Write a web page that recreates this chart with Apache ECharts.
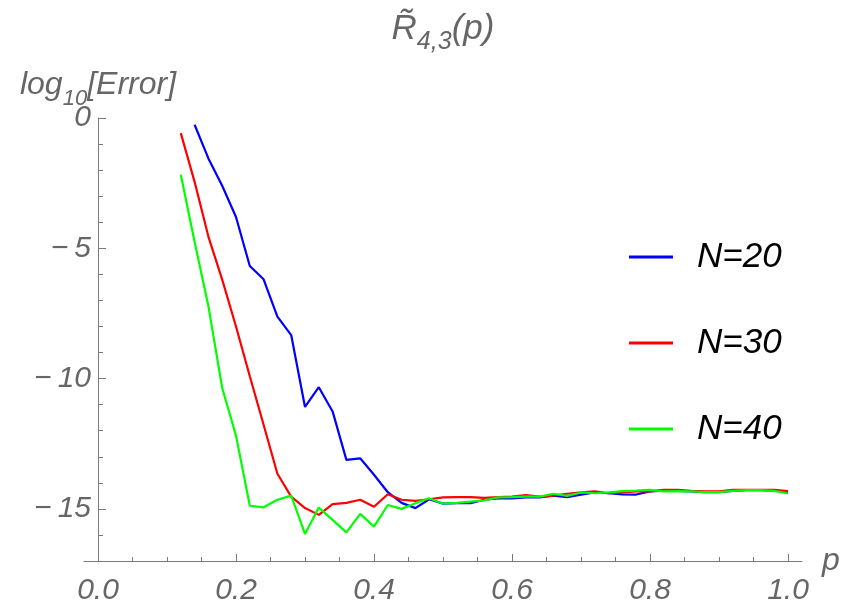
<!DOCTYPE html>
<html>
<head>
<meta charset="utf-8">
<script src="https://cdn.jsdelivr.net/npm/echarts@6/dist/echarts.min.js"></script>
<style>
  html, body { margin: 0; padding: 0; background: #ffffff; }
  #chart { width: 844px; height: 615px; }
</style>
</head>
<body>
<div id="chart"></div>
<script>
// Sample points p = 0.12 ... 1.00
const pValues = [0.12, 0.14, 0.16, 0.18, 0.20, 0.22, 0.24, 0.26, 0.28, 0.30,
                 0.32, 0.34, 0.36, 0.38, 0.40, 0.42, 0.44, 0.46, 0.48, 0.50,
                 0.52, 0.54, 0.56, 0.58, 0.60, 0.62, 0.64, 0.66, 0.68, 0.70,
                 0.72, 0.74, 0.76, 0.78, 0.80, 0.82, 0.84, 0.86, 0.88, 0.90,
                 0.92, 0.94, 0.96, 0.98, 1.00];

// log10 of the error for each truncation order N
const errN20 = ['-', -0.26, -1.55, -2.6, -3.8, -5.68, -6.19, -7.62, -8.33, -11.09,
                -10.33, -11.26, -13.12, -13.06, -13.69, -14.36, -14.77, -14.97, -14.63, -14.80,
                -14.78, -14.78, -14.65, -14.60, -14.60, -14.56, -14.56, -14.49, -14.55, -14.45,
                -14.37, -14.40, -14.44, -14.45, -14.33, -14.30, -14.31, -14.33, -14.36, -14.36,
                -14.31, -14.28, -14.28, -14.30, -14.36];
const errN30 = [-0.58, -2.45, -4.55, -6.2, -8.0, -9.91, -11.77, -13.65, -14.53, -14.97,
                -15.23, -14.82, -14.77, -14.65, -14.92, -14.44, -14.65, -14.69, -14.63, -14.56,
                -14.55, -14.55, -14.58, -14.55, -14.53, -14.47, -14.53, -14.49, -14.42, -14.37,
                -14.33, -14.40, -14.37, -14.33, -14.33, -14.27, -14.27, -14.31, -14.33, -14.33,
                -14.27, -14.27, -14.27, -14.27, -14.32];
const errN40 = [-2.18, -4.75, -7.22, -10.36, -12.19, -14.88, -14.94, -14.65, -14.49, -15.96,
                -14.95, -15.42, -15.90, -15.19, -15.68, -14.85, -15.00, -14.78, -14.59, -14.80,
                -14.77, -14.72, -14.67, -14.56, -14.55, -14.53, -14.53, -14.42, -14.50, -14.37,
                -14.40, -14.37, -14.32, -14.30, -14.27, -14.33, -14.32, -14.33, -14.36, -14.36,
                -14.31, -14.28, -14.28, -14.31, -14.41];

const seriesNames = ['N=20', 'N=30', 'N=40'];
const seriesColors = ['#0000ff', '#ff0000', '#00ff00'];

// Tick positions
const xMajorTicks = [0, 0.2, 0.4, 0.6, 0.8, 1.0];
const xMinorTicks = [0.05, 0.1, 0.15, 0.25, 0.3, 0.35, 0.45, 0.5, 0.55,
                     0.65, 0.7, 0.75, 0.85, 0.9, 0.95];
const yMajorTicks = [0, -5, -10, -15];
const yMinorTicks = [-1, -2, -3, -4, -6, -7, -8, -9, -11, -12, -13, -14, -16];

const FONT = '"Liberation Sans", Arial, sans-serif';
const AXIS_COLOR = '#7a7a7a';
const TEXT_COLOR = '#666666';

const chart = echarts.init(document.getElementById('chart'), null, { renderer: 'canvas' });

const toPairs = (vals) => pValues.map((p, i) => [p, vals[i]]);

const lineSeries = [errN20, errN30, errN40].map((vals, i) => ({
  name: seriesNames[i],
  type: 'line',
  xAxisIndex: 0,
  yAxisIndex: 0,
  data: toPairs(vals),
  showSymbol: false,
  symbol: 'none',
  connectNulls: false,
  color: seriesColors[i],
  lineStyle: { color: seriesColors[i], width: 2.2 },
  z: 2 + i
}));

const italic = (size, color) => ({
  fontFamily: FONT, fontStyle: 'italic', fontWeight: 'normal', fontSize: size, color: color
});

const xBase = {
  type: 'value',
  min: 0,
  max: 1,
  position: 'bottom',
  gridIndex: 0,
  splitLine: { show: false },
  axisLine: { show: false, onZero: false }
};
const yBase = {
  type: 'value',
  min: -17,
  max: 0,
  position: 'left',
  gridIndex: 0,
  splitLine: { show: false },
  axisLine: { show: true, onZero: false, lineStyle: { color: AXIS_COLOR, width: 1 } }
};

const option = {
  animation: false,
  backgroundColor: '#ffffff',
  title: {
    text: '{r|R\u0303}{s|4,3}{n|(p)}',
    left: 443,
    top: 3,
    padding: 0,
    textAlign: 'center',
    textStyle: {
      fontWeight: 'normal',
      rich: {
        r: Object.assign(italic(35, TEXT_COLOR), { lineHeight: 52, verticalAlign: 'middle' }),
        s: Object.assign(italic(25, TEXT_COLOR), { lineHeight: 22, verticalAlign: 'bottom' }),
        n: Object.assign(italic(35, TEXT_COLOR), { lineHeight: 52, verticalAlign: 'middle' })
      }
    }
  },
  grid: [
    // plotting area
    { left: 98, right: 56, top: 118, bottom: 54, containLabel: false },
    // horizontal axis line, which runs a little past both ends of the plot
    { left: 84, right: 42, top: 118, bottom: 54, containLabel: false }
  ],
  legend: {
    orient: 'vertical',
    left: 629,
    top: 237,
    padding: 0,
    itemWidth: 44,
    itemHeight: 3,
    itemGap: 46,
    icon: 'rect',
    data: seriesNames,
    textStyle: Object.assign(italic(35, '#000000'), { lineHeight: 40, padding: [0, 0, 0, 19] })
  },
  xAxis: [
    Object.assign({}, xBase, {
      axisTick: { show: true, inside: true, length: 7, customValues: xMajorTicks, lineStyle: { color: AXIS_COLOR } },
      axisLabel: Object.assign(italic(30, TEXT_COLOR), {
        show: true,
        customValues: xMajorTicks,
        margin: 15,
        formatter: (v) => v.toFixed(1)
      })
    }),
    Object.assign({}, xBase, {
      axisTick: { show: true, inside: true, length: 4, customValues: xMinorTicks, lineStyle: { color: AXIS_COLOR } },
      axisLabel: { show: false }
    }),
    {
      type: 'value',
      gridIndex: 1,
      min: 0,
      max: 1,
      position: 'bottom',
      splitLine: { show: false },
      axisTick: { show: false },
      axisLabel: { show: false },
      axisLine: { show: true, onZero: false, lineStyle: { color: AXIS_COLOR, width: 1 } },
      name: 'p',
      nameLocation: 'end',
      nameGap: 20,
      nameMoveOverlap: false,
      nameTextStyle: Object.assign(italic(32, TEXT_COLOR), { align: 'left', verticalAlign: 'middle', padding: [16, 0, 0, 0] })
    }
  ],
  yAxis: [
    Object.assign({}, yBase, {
      name: '{m|log}{s|10}{m|[Error]}',
      nameLocation: 'end',
      nameGap: 8,
      nameMoveOverlap: false,
      nameTextStyle: {
        align: 'center',
        rich: {
          m: Object.assign(italic(32, TEXT_COLOR), { lineHeight: 50, verticalAlign: 'middle' }),
          s: Object.assign(italic(22, TEXT_COLOR), { lineHeight: 14, verticalAlign: 'bottom' })
        }
      },
      axisTick: { show: true, inside: true, length: 8, customValues: yMajorTicks, lineStyle: { color: AXIS_COLOR } },
      axisLabel: Object.assign(italic(30, TEXT_COLOR), {
        show: true,
        customValues: yMajorTicks,
        margin: 7,
        formatter: (v) => (v === 0 ? '0' : '\u2212\u2009' + Math.abs(v))
      })
    }),
    Object.assign({}, yBase, {
      axisLine: { show: false, onZero: false },
      axisTick: { show: true, inside: true, length: 5, customValues: yMinorTicks, lineStyle: { color: AXIS_COLOR } },
      axisLabel: { show: false }
    }),
    { type: 'value', gridIndex: 1, min: -17, max: 0, show: false }
  ],
  series: lineSeries
};

chart.setOption(option);
</script>
</body>
</html>
